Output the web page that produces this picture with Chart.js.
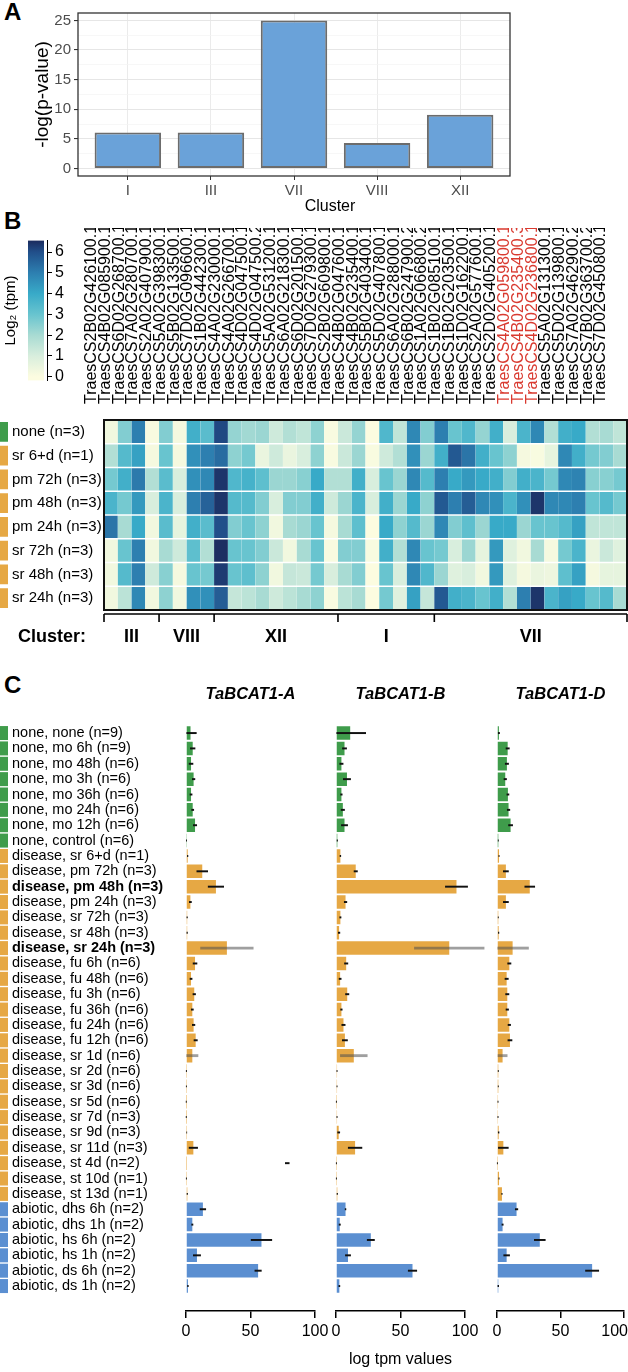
<!DOCTYPE html>
<html><head><meta charset="utf-8">
<script src="https://cdn.jsdelivr.net/npm/chart.js@4.4.1/dist/chart.umd.min.js"></script>
<style>
html,body{margin:0;padding:0;background:#fff}
body{position:relative;width:628px;height:1372px;overflow:hidden;font-family:"Liberation Sans",Arial,sans-serif}
canvas{position:absolute;display:block}
.pl{position:absolute;left:4px;font-size:24px;line-height:24px;font-weight:bold;color:#000}
</style></head><body>
<div class="pl" style="top:0px">A</div>
<div class="pl" style="top:209px">B</div>
<div class="pl" style="top:673px">C</div>
<canvas id="cA" width="628" height="222" style="left:0;top:0"></canvas>
<canvas id="cBar" width="80" height="165" style="left:0;top:228px"></canvas>
<canvas id="cH" width="628" height="435" style="left:0;top:228px"></canvas>
<canvas id="c1" width="340" height="695" style="left:0;top:676px"></canvas>
<canvas id="c2" width="170" height="695" style="left:316px;top:676px"></canvas>
<canvas id="c3" width="151" height="695" style="left:477px;top:676px"></canvas>
<script>
// ---------- Panel A data ----------
const clusterCats = ['I', 'III', 'VII', 'VIII', 'XII'];
const clusterPval = [6.1, 6.1, 25.0, 4.3, 9.1];
const pvalTicks = [0, 5, 10, 15, 20, 25];

// ---------- Panel B data ----------
const geneIds = ['TraesCS2B02G426100.1','TraesCS4B02G085900.1','TraesCS6D02G268700.1','TraesCS7A02G280700.1','TraesCS2A02G407900.1','TraesCS5A02G398300.1','TraesCS5B02G133500.1','TraesCS7D02G096600.1','TraesCS1B02G442300.1','TraesCS4A02G230000.1','TraesCS4A02G266700.1','TraesCS4D02G047500.1','TraesCS4D02G047500.2','TraesCS5A02G531200.1','TraesCS6A02G218300.1','TraesCS6D02G201500.1','TraesCS7D02G279300.1','TraesCS2B02G609800.1','TraesCS4B02G047600.1','TraesCS4B02G235400.1','TraesCS5B02G403400.1','TraesCS5D02G407800.1','TraesCS6A02G288000.1','TraesCS6B02G247900.2','TraesCS1A02G066800.2','TraesCS1B02G085100.1','TraesCS1B02G203500.1','TraesCS1D02G162200.1','TraesCS2A02G577600.1','TraesCS2D02G405200.1','TraesCS4A02G059800.1','TraesCS4B02G235400.3','TraesCS4D02G236800.1','TraesCS5A02G131300.1','TraesCS5D02G139800.1','TraesCS7A02G462900.2','TraesCS7B02G363700.2','TraesCS7D02G450800.1'];
const highlightGenes = ['TraesCS4A02G059800.1','TraesCS4B02G235400.3','TraesCS4D02G236800.1'];
const clusterNames = ['III', 'VIII', 'XII', 'I', 'VII'];
const clusterSizes = [4, 4, 9, 7, 14];
const heatRows = ['none (n=3)','sr 6+d (n=1)','pm 72h (n=3)','pm 48h (n=3)','pm 24h (n=3)','sr 72h (n=3)','sr 48h (n=3)','sr 24h (n=3)'];
const heatRowGroup = ['none','disease','disease','disease','disease','disease','disease','disease'];
const colorTicks = [0, 1, 2, 3, 4, 5, 6];
const heatNone  = [0.3,2.6,5.0,0.1,2.6,0.2,3.8,3.3,6.1,2.3,2.1,2.2,1.2,1.8,1.5,2.4,0.1,1.3,2.3,0.0,3.5,1.5,4.8,2.6,5.0,3.0,3.5,2.3,3.8,1.0,3.6,4.8,1.8,3.8,4.0,1.8,2.0,1.5];
const heatSr6d  = [1.8,3.4,4.2,0.2,3.0,0.2,4.6,5.0,5.4,2.4,2.8,0.5,1.2,0.5,1.0,2.4,0.1,1.3,2.2,0.1,1.2,1.8,4.6,2.2,3.8,5.8,5.2,3.8,3.0,2.4,0.2,0.1,0.6,4.8,3.8,2.8,2.6,2.0];
const heatPm72  = [2.8,3.8,5.1,1.8,3.3,1.0,4.6,4.8,6.4,3.5,3.7,3.2,2.2,2.2,2.5,4.0,1.8,1.8,3.8,1.0,3.0,2.2,4.8,3.4,5.0,4.0,4.4,4.0,3.8,2.6,3.8,3.6,2.8,4.8,4.9,2.5,2.5,2.8];
const heatPm48  = [3.6,2.8,4.4,1.0,3.6,1.0,5.0,5.6,6.4,3.4,3.4,2.6,1.0,2.6,2.6,3.8,1.2,2.2,3.6,1.0,3.8,2.2,4.0,2.4,5.8,5.0,5.7,4.8,4.6,3.6,4.6,6.4,4.8,4.8,5.0,3.0,3.4,2.8];
const heatPm24  = [5.2,2.0,4.0,0.3,3.3,0.6,3.8,3.3,6.0,2.6,3.0,2.4,0.3,2.0,2.2,3.0,0.2,2.0,3.2,0.0,4.0,2.4,3.4,2.2,4.8,2.6,3.2,2.2,4.0,4.0,2.2,3.0,3.0,3.4,4.2,1.5,1.5,1.5];
const heatSr72  = [0.3,3.0,5.0,0.3,2.0,1.2,3.2,1.8,6.5,3.0,3.0,2.6,1.3,0.3,2.0,3.0,0.1,2.6,2.6,0.1,3.8,1.8,4.8,3.0,2.8,1.0,2.2,0.6,4.4,0.8,0.3,2.0,0.2,2.8,3.6,0.5,1.3,0.8];
const heatSr48  = [0.3,3.4,5.0,1.2,2.5,0.2,3.0,2.8,6.3,3.0,3.2,2.4,0.3,1.4,1.3,2.8,1.0,2.0,2.6,0.0,3.0,1.0,4.8,3.5,2.2,0.8,1.0,0.3,4.4,0.8,0.2,0.5,0.4,3.2,4.2,0.2,0.6,0.6];
const heatSr24  = [0.3,1.6,4.8,0.3,2.4,0.3,4.6,4.6,5.7,1.4,1.6,2.0,1.2,1.6,2.0,2.4,0.1,1.6,2.0,0.0,2.8,0.8,4.2,1.4,5.8,3.8,3.6,3.0,3.8,1.8,5.0,6.4,3.6,4.2,4.0,3.0,3.4,2.0];
const heatData = [heatNone, heatSr6d, heatPm72, heatPm48, heatPm24, heatSr72, heatSr48, heatSr24];

// ---------- Panel C data ----------
const conditions = ['none, none (n=9)','none, mo 6h (n=9)','none, mo 48h (n=6)','none, mo 3h (n=6)','none, mo 36h (n=6)','none, mo 24h (n=6)','none, mo 12h (n=6)','none, control (n=6)',
 'disease, sr 6+d (n=1)','disease, pm 72h (n=3)','disease, pm 48h (n=3)','disease, pm 24h (n=3)','disease, sr 72h (n=3)','disease, sr 48h (n=3)','disease, sr 24h (n=3)',
 'disease, fu 6h (n=6)','disease, fu 48h (n=6)','disease, fu 3h (n=6)','disease, fu 36h (n=6)','disease, fu 24h (n=6)','disease, fu 12h (n=6)',
 'disease, sr 1d (n=6)','disease, sr 2d (n=6)','disease, sr 3d (n=6)','disease, sr 5d (n=6)','disease, sr 7d (n=3)','disease, sr 9d (n=3)','disease, sr 11d (n=3)',
 'disease, st 4d (n=2)','disease, st 10d (n=1)','disease, st 13d (n=1)',
 'abiotic, dhs 6h (n=2)','abiotic, dhs 1h (n=2)','abiotic, hs 6h (n=2)','abiotic, hs 1h (n=2)','abiotic, ds 6h (n=2)','abiotic, ds 1h (n=2)'];
const boldConditions = ['disease, pm 48h (n=3)', 'disease, sr 24h (n=3)'];
const grayErrConditions = ['disease, sr 24h (n=3)', 'disease, sr 1d (n=6)'];
const geneTitles = ['TaBCAT1-A', 'TaBCAT1-B', 'TaBCAT1-D'];
const tpmTicks = [0, 50, 100];
const meanA = [3.5,5.2,3.9,5.9,3.9,5.2,7.0,0.4,1.3,12.6,23.2,3.4,0.9,0.9,31.7,7.0,3.9,6.4,4.9,5.9,7.5,4.9,0.3,0.3,0.2,0.2,0.3,5.7,0.2,0.3,1.0,13.1,4.9,58.5,8.5,55.9,1.5];
const seA   = [4.5,1.8,1.5,1.0,0.8,0.8,1.3,0.1,0.2,4.2,6.0,0.8,0.2,0.2,20.4,1.5,0.8,1.0,0.8,1.0,1.3,4.4,0.1,0.1,0.1,0.1,0.3,3.3,0.1,0.1,0.2,2.2,0.5,8.0,2.8,2.5,0.3];
const meanB = [11.0,6.6,4.2,8.5,4.2,5.3,6.6,1.0,3.4,15.3,93.4,7.4,3.4,2.4,87.8,7.9,3.2,8.7,4.2,5.8,6.9,13.8,0.8,0.8,0.3,0.8,2.1,14.8,0.3,0.3,1.0,7.4,2.9,27.0,9.3,59.3,2.6];
const seB   = [12.0,1.6,1.3,2.8,0.6,1.3,2.4,0.2,0.3,1.3,8.6,1.0,0.5,0.6,27.0,1.3,0.8,1.3,0.6,1.3,2.0,10.4,0.1,0.1,0.1,0.1,0.8,5.3,0.1,0.1,0.2,0.3,0.5,2.8,2.0,3.3,0.4];
const meanD = [1.5,8.4,7.8,6.5,8.6,9.1,10.7,1.0,1.6,7.0,25.8,7.0,1.0,1.3,12.3,9.7,7.6,8.1,8.1,9.7,10.2,4.4,1.0,1.0,0.8,0.8,1.3,5.0,0.3,1.6,3.9,15.4,4.4,33.7,7.6,74.9,1.0];
const seD   = [0.5,1.3,1.3,1.0,0.8,1.0,1.6,0.1,0.1,2.0,3.9,2.0,0.1,0.2,12.5,1.3,1.3,1.3,1.0,1.0,1.6,3.6,0.1,0.1,0.1,0.1,0.3,3.9,0.1,0.1,0.2,1.0,0.5,4.3,2.3,5.2,0.3];
const strayErrA = {row: 'disease, st 4d (n=2)', lo: 77, hi: 80};

// ---------- styles ----------
const FONT = '"Liberation Sans", Arial, sans-serif';
Chart.defaults.font.family = FONT;
Chart.defaults.color = '#000';
const groupColors = {none: '#3f9c4b', disease: '#e6a844', abiotic: '#5b8fd1'};
const heatPalette = [[0,'#fcfce0'],[1,'#d8eedd'],[2,'#a8dbd3'],[3,'#68c4cf'],[4,'#38aac8'],[5,'#2d7fb0'],[6,'#214f8a'],[6.55,'#1b2b5e']];
const RED = '#d93a30';
function hex2rgb(h){return [1,3,5].map(i=>parseInt(h.substr(i,2),16));}
function heatColor(v){
  const s = heatPalette;
  if (v <= s[0][0]) return s[0][1];
  for (let i=1;i<s.length;i++){
    if (v <= s[i][0]) {
      const t=(v-s[i-1][0])/(s[i][0]-s[i-1][0]);
      const a=hex2rgb(s[i-1][1]), b=hex2rgb(s[i][1]);
      return 'rgb('+a.map((x,j)=>Math.round(x+(b[j]-x)*t)).join(',')+')';
    }
  }
  return s[s.length-1][1];
}
const baseOpts = {responsive:false, animation:false, events:[], devicePixelRatio:1,
  plugins:{legend:{display:false}, tooltip:{enabled:false}, title:{display:false}}};

// ---------- Panel A chart ----------
const frameA = {
  id:'frameA',
  afterDatasetsDraw(chart){
    const {ctx, chartArea:a} = chart;
    ctx.save(); ctx.strokeStyle='#333'; ctx.lineWidth=1.3;
    ctx.strokeRect(a.left, a.top, a.right-a.left, a.bottom-a.top); ctx.restore();
  },
  afterDraw(chart){
    const ctx = chart.ctx;
    ctx.save(); ctx.fillStyle='#000'; ctx.font='16px '+FONT; ctx.textAlign='center'; ctx.textBaseline='middle';
    ctx.fillText('Cluster', 330, 207); ctx.restore();
  }
};
new Chart(document.getElementById('cA'), {
  type:'bar',
  data:{datasets:[{data: clusterCats.map((c,i)=>({x:i+1, y:clusterPval[i]})),
    backgroundColor:'#6aa2d9', borderColor:'#6c6c6c', borderWidth:2, borderSkipped:false,
    barPercentage:0.8, categoryPercentage:1}]},
  options:{...baseOpts,
    layout:{padding:{top:13, right:118, left:0, bottom:0}},
    scales:{
      x:{type:'linear', min:0.4, max:5.6, offset:false,
        afterBuildTicks: s => { s.ticks = clusterCats.map((c,i)=>({value:i+1})); },
        ticks:{callback:(v,i)=>clusterCats[i], font:{size:15}, color:'#4d4d4d', padding:2, autoSkip:false, maxRotation:0},
        grid:{offset:false, color:'#ebebeb', tickColor:'#333', tickLength:4, lineWidth:1},
        border:{display:false},
        afterFit: s => { s.height = 46; }},
      y:{min:-1.25, max:26.25,
        afterBuildTicks: s => { const t=[]; pvalTicks.forEach((v,i)=>{ t.push({value:v}); if(i<pvalTicks.length-1) t.push({value:(v+pvalTicks[i+1])/2}); }); s.ticks=t; },
        ticks:{callback:(v)=>pvalTicks.includes(v)?String(v):'', font:{size:15}, color:'#4d4d4d', padding:3, autoSkip:false},
        grid:{color:c=>pvalTicks.includes(c.tick.value)?'#e6e6e6':'#f3f3f3', lineWidth:c=>pvalTicks.includes(c.tick.value)?1.1:0.7,
              tickColor:c=>pvalTicks.includes(c.tick.value)?'#333':'rgba(0,0,0,0)', tickLength:4},
        border:{display:false},
        title:{display:true, text:'-log(p-value)', font:{size:19}, color:'#000', padding:{top:31, bottom:0}},
        afterFit: s => { s.width = 78; }}
    }},
  plugins:[frameA]
});

// ---------- Colour bar ----------
const gradPlugin = {
  id:'grad',
  beforeDatasetsDraw(chart){
    const {ctx, chartArea:a} = chart; const ys = chart.scales.y;
    const y0 = ys.getPixelForValue(ys.min), y1 = ys.getPixelForValue(ys.max);
    const g = ctx.createLinearGradient(0, y0, 0, y1);
    g.addColorStop(0, heatPalette[0][1]);
    heatPalette.forEach(([v,c]) => g.addColorStop(Math.max(0, Math.min(1, (v-ys.min)/(ys.max-ys.min))), c));
    ctx.save(); ctx.fillStyle=g; ctx.fillRect(a.left, a.top, a.right-a.left-3, a.bottom-a.top); ctx.restore();
  }
};
new Chart(document.getElementById('cBar'), {
  type:'bar', data:{labels:[''], datasets:[]},
  options:{...baseOpts,
    layout:{padding:{top:10, bottom:8, left:0, right:0}},
    scales:{
      x:{display:false},
      yT:{type:'linear', position:'left', display:true, ticks:{display:false}, grid:{display:false}, border:{display:false},
          title:{display:true, text:'Log\u2082 (tpm)', font:{size:15}, color:'#000', padding:{top:2, bottom:0}},
          afterFit: s => { s.width = 28; }},
      y:{type:'linear', position:'right', min:-0.18, max:6.55,
         afterBuildTicks: s => { s.ticks = colorTicks.map(v=>({value:v})); },
         ticks:{font:{size:16}, color:'#000', padding:3},
         grid:{drawOnChartArea:false, color:'#000', tickLength:5, lineWidth:1},
         border:{display:true, color:'#000', width:1},
         afterFit: s => { s.width = 33; }}
    }},
  plugins:[gradPlugin]
});

// ---------- Heatmap ----------
const heatDeco = {
  id:'heatDeco',
  afterDatasetsDraw(chart){
    const {ctx, chartArea:a} = chart;
    ctx.save(); ctx.strokeStyle='#111'; ctx.lineWidth=2;
    ctx.strokeRect(a.left, a.top, a.right-a.left, a.bottom-a.top); ctx.restore();
  },
  afterDraw(chart){
    const {ctx, chartArea:a} = chart; const xs = chart.scales.x, ys = chart.scales.y;
    ctx.save();
    heatRows.forEach((r,i)=>{
      const yt = ys.getPixelForValue(i), yb = ys.getPixelForValue(i+1);
      ctx.fillStyle = groupColors[heatRowGroup[i]];
      ctx.fillRect(0, yt+2, 8, yb-yt-4);
    });
    const colW = (xs.right - xs.left)/geneIds.length;
    const bounds=[0]; let k=0; clusterSizes.forEach(n=>{k+=n; bounds.push(k);});
    const yL = a.bottom + 4;
    ctx.strokeStyle='#000'; ctx.lineWidth=1.6; ctx.beginPath();
    ctx.moveTo(xs.left, yL); ctx.lineTo(xs.right, yL);
    bounds.forEach(b=>{ const x = xs.left + b*colW; ctx.moveTo(x, yL); ctx.lineTo(x, yL+8); });
    ctx.stroke();
    ctx.fillStyle='#000'; ctx.font='bold 18px '+FONT; ctx.textBaseline='middle';
    ctx.textAlign='left'; ctx.fillText('Cluster:', 18, a.bottom+27);
    ctx.textAlign='center';
    clusterNames.forEach((n,i)=>{ ctx.fillText(n, xs.left + (bounds[i]+bounds[i+1])/2*colW, a.bottom+27); });
    ctx.restore();
  }
};
new Chart(document.getElementById('cH'), {
  type:'bar',
  data:{labels: geneIds,
    datasets: heatData.map((vals,r)=>({label:heatRows[r], data: vals.map(()=>1), backgroundColor: vals.map(heatColor),
      borderColor:'#ffffff', borderWidth:{top:1, bottom:1, left:0, right:0}, borderSkipped:false,
      barPercentage:1, categoryPercentage:1}))},
  options:{...baseOpts,
    layout:{padding:{left:12, right:1, top:0, bottom:53}},
    scales:{
      x:{position:'top', stacked:true, offset:true, grid:{display:false}, border:{display:false},
        ticks:{autoSkip:false, minRotation:90, maxRotation:90, font:{size:16},
          color: c => highlightGenes.includes(geneIds[c.index]) ? RED : '#000', padding:8},
        afterFit: s => { s.height = 192; s.paddingLeft = 0; s.paddingRight = 0; }},
      y:{stacked:true, min:0, max:8, reverse:true, position:'left',
        afterBuildTicks: s => { s.ticks = heatRows.map((r,i)=>({value:i+0.5})); },
        ticks:{callback:(v,i)=>heatRows[i], crossAlign:'far', font:{size:15}, color:'#000', autoSkip:false, padding:0},
        grid:{display:false}, border:{display:false},
        afterFit: s => { s.width = 92; }}
    }},
  plugins:[heatDeco]
});

// ---------- Panel C ----------
const condGroup = conditions.map(c => c.split(',')[0]);
function makeC(id, gi, means, ses, opt){
  const errs = conditions.map((c,i)=>{
    if (opt.stray && c === opt.stray.row) return [opt.stray.lo, opt.stray.hi];
    return [Math.max(0, means[i]-ses[i]), means[i]+ses[i]];
  });
  const deco = {
    id:'deco'+gi,
    afterDraw(chart){
      const ctx = chart.ctx, ys = chart.scales.y, xs = chart.scales.x;
      ctx.save();
      if (opt.labels) {
        conditions.forEach((c,i)=>{ const y = ys.getPixelForValue(i); ctx.fillStyle = groupColors[condGroup[i]]; ctx.fillRect(0, y-7, 8, 14); });
      }
      if (opt.lastRight) {
        const items = xs.getLabelItems(); const it = items[0];
        ctx.fillStyle='#000'; ctx.font='16px '+FONT; ctx.textAlign='right'; ctx.textBaseline = it.options.textBaseline;
        ctx.fillText(String(tpmTicks[tpmTicks.length-1]), chart.width, it.options.translation[1] + it.textOffset);
      }
      ctx.restore();
    }
  };
  const yScale = {type:'linear', min:-0.6, max:37.1, reverse:true, display: !!opt.labels,
    afterBuildTicks: s => { s.ticks = conditions.map((c,i)=>({value:i})); },
    ticks:{callback:(v,i)=>conditions[i], crossAlign:'far', autoSkip:false, color:'#000', padding:0,
      font: c => ({size:14.5, weight: boldConditions.includes(conditions[c.index]) ? 'bold' : 'normal'})},
    grid:{display:false}, border:{display:false}};
  if (opt.labels) yScale.afterFit = s => { s.width = 174; };
  return new Chart(document.getElementById(id), {
    type:'bar',
    data:{datasets:[
      {data: conditions.map((c,i)=>({y:i, x: grayErrConditions.includes(c) ? null : errs[i]})),
       backgroundColor:'#111', barThickness:1.3, grouped:false, clip:false},
      {data: conditions.map((c,i)=>({y:i, x: grayErrConditions.includes(c) ? errs[i] : null})),
       backgroundColor:'rgba(80,80,80,0.55)', barThickness:2.2, grouped:false, clip:false},
      {data: conditions.map((c,i)=>({y:i, x: means[i]})),
       backgroundColor: condGroup.map(g=>groupColors[g]), barPercentage:0.88, categoryPercentage:1, grouped:false}
    ]},
    options:{...baseOpts, indexAxis:'y',
      layout:{padding:{left:opt.padL, right:opt.padR, top:0, bottom:0}},
      plugins:{...baseOpts.plugins, title:{display:true, text:geneTitles[gi], fullSize:false, color:'#000',
        font:{size:16.5, weight:'bold', style:'italic'}, padding:{top:9, bottom:11}}},
      scales:{
        x:{type:'linear', min:0, max:100,
          afterBuildTicks: s => { s.ticks = tpmTicks.map(v=>({value:v})); },
          ticks:{font:{size:16}, color:'#000', padding:4, callback: v => (opt.lastRight && v === tpmTicks[tpmTicks.length-1]) ? '' : String(v)},
          grid:{display:true, drawOnChartArea:false, drawTicks:true, tickLength:7, color:'#000', lineWidth:1.5},
          border:{display:true, color:'#000', width:1.5},
          title:{display: !!opt.xTitle, text:'log tpm values', font:{size:16}, color:'#000', padding:{top:0, bottom:2}},
          afterFit: s => { s.height = 60; }},
        y: yScale
      }},
    plugins:[deco]
  });
}
makeC('c1', 0, meanA, seA, {labels:true, padL:12, padR:25, stray:strayErrA});
makeC('c2', 1, meanB, seB, {padL:20, padR:21, xTitle:true});
makeC('c3', 2, meanD, seD, {padL:20, padR:2, lastRight:true});
</script>
</body></html>
